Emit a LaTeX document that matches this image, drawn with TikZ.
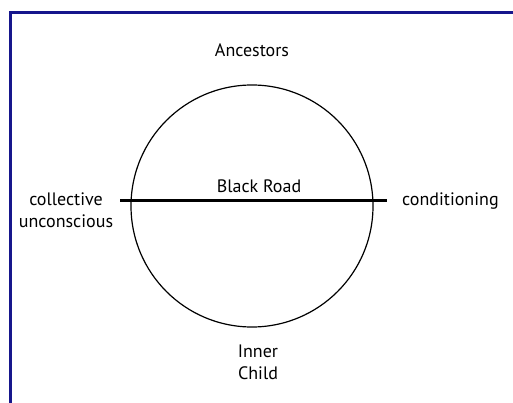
\documentclass[tikz,border=0pt]{standalone}
\usepackage{fontspec}
\setmainfont{PT Sans}
\usepackage{tikz}
\usetikzlibrary{positioning}
\definecolor{frame}{RGB}{22, 22, 140}
\tikzset{
    base/.style={text centered, font=\fontsize{18}{22}\selectfont, inner sep=0pt},
    caption/.style={base, align=center},
    wheel/.style={circle, draw=black, line width=1.2pt, minimum size=242pt, inner sep=0pt},
    road/.style={line width=3pt, black},
    border/.style={line width=3pt, color=frame}
}
\begin{document}
\begin{tikzpicture}[x=1pt, y=-1pt]
        \useasboundingbox [fill=white] (0,0) rectangle (513,403);
        % -- frame --
        \coordinate (frameBL) at (10,403);
        \coordinate (frameTL) at (10,13);
        \coordinate (frameTR) at (513,13);
        \draw [border] (frameBL) -- (frameTL) -- (frameTR);

        % -- circle and road --
        \node (wheel) [wheel] at (252,206) {};
        \coordinate (roadW) at (120,201);
        \coordinate (roadE) at (387,201);
        \draw [road] (roadW) -- (roadE);

        % -- labels --
        \node (ancestors) [caption] at (252,50) {Ancestors};
        \node (blackroad) [caption] at (259,186) {Black Road};
        \node (collective) [caption] at (66,210) {collective\\unconscious};
        \node (conditioning) [caption, anchor=west] at (402,201) {conditioning};
        \node (inner) [caption] at (258,362) {Inner\\Child};
    \end{tikzpicture}
\end{document}
